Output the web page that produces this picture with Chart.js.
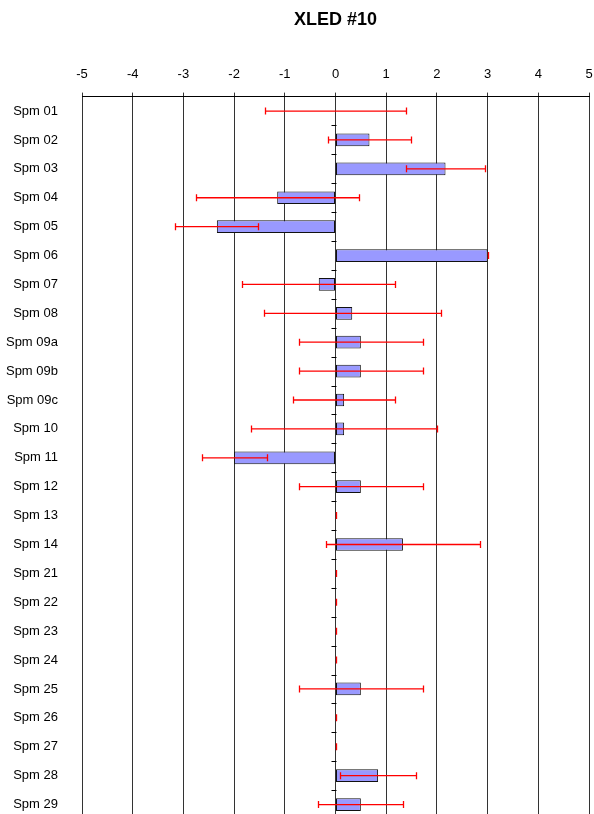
<!DOCTYPE html>
<html>
<head>
<meta charset="utf-8">
<script src="https://cdn.jsdelivr.net/npm/chart.js@4"></script>
<style>
	body { margin: 0; overflow: hidden; background: #fff; }
	canvas { display: block; }
</style>
</head>
<body>
<canvas id="xledChart" width="594" height="830"></canvas>
<script>
const categories = ["Spm 01", "Spm 02", "Spm 03", "Spm 04", "Spm 05", "Spm 06", "Spm 07", "Spm 08",
	"Spm 09a", "Spm 09b", "Spm 09c", "Spm 10", "Spm 11", "Spm 12", "Spm 13", "Spm 14",
	"Spm 21", "Spm 22", "Spm 23", "Spm 24", "Spm 25", "Spm 26", "Spm 27", "Spm 28", "Spm 29"];
const values = [0, 0.67, 2.17, -1.15, -2.34, 3.0, -0.33, 0.33,
	0.5, 0.5, 0.17, 0.17, -2.0, 0.5, 0, 1.33,
	0, 0, 0, 0, 0.5, 0, 0, 0.84, 0.5];
const errors = [1.4, 0.82, 0.77, 1.61, 0.82, 0, 1.51, 1.75,
	1.22, 1.22, 1.0, 1.84, 0.64, 1.22, 0, 1.52,
	0, 0, 0, 0, 1.22, 0, 0, 0.75, 0.84];
const xMin = -5;
const xMax = 5;
const xStep = 1;

const FONT = "Arial, 'Liberation Sans', sans-serif";

// red error bars with caps, drawn on top of the bars
const errorBars = {
	id: "errorBars",
	afterDatasetsDraw(chart) {
		const ctx = chart.ctx;
		const xs = chart.scales.x;
		const ys = chart.scales.y;
		ctx.save();
		ctx.strokeStyle = "#ff0000";
		ctx.lineWidth = 1.3;
		values.forEach((v, i) => {
			const y = ys.getPixelForValue(i);
			const x1 = Math.round(xs.getPixelForValue(v - errors[i])) + 0.5;
			const x2 = Math.round(xs.getPixelForValue(v + errors[i])) + 0.5;
			ctx.beginPath();
			ctx.moveTo(x1, y);
			ctx.lineTo(x2, y);
			ctx.moveTo(x1, y - 3.5);
			ctx.lineTo(x1, y + 3.5);
			ctx.moveTo(x2, y - 3.5);
			ctx.lineTo(x2, y + 3.5);
			ctx.stroke();
		});
		ctx.restore();
	},
	// little category ticks on the zero line
	afterDraw(chart) {
		const ctx = chart.ctx;
		const xs = chart.scales.x;
		const ys = chart.scales.y;
		const x0 = Math.round(xs.getPixelForValue(0)) + 0.5;
		const half = (ys.getPixelForValue(1) - ys.getPixelForValue(0)) / 2;
		ctx.save();
		ctx.strokeStyle = "#000";
		ctx.lineWidth = 1;
		ctx.beginPath();
		for (let i = 0; i < categories.length; i++) {
			const yb = Math.round(ys.getPixelForValue(i) + half) + 0.5;
			ctx.moveTo(x0 - 5, yb);
			ctx.lineTo(x0, yb);
		}
		ctx.stroke();
		ctx.restore();
	}
};

new Chart(document.getElementById("xledChart"), {
	type: "bar",
	data: {
		labels: categories,
		datasets: [{
			data: values,
			backgroundColor: "#9999ff",
			borderColor: "#111111",
			borderWidth: 1,
			borderSkipped: false,
			barPercentage: 0.44,
			categoryPercentage: 1,
		}],
	},
	options: {
		indexAxis: "y",
		responsive: false,
		animation: false,
		layout: { padding: { top: 0, right: 5, bottom: 11, left: 6 } },
		plugins: {
			legend: { display: false },
			tooltip: { enabled: false },
			title: {
				display: true,
				text: "XLED #10",
				fullSize: false,
				color: "#000",
				font: { family: FONT, size: 18, weight: "bold" },
				padding: { top: 9, bottom: 36 },
			},
		},
		scales: {
			x: {
				position: "top",
				min: xMin,
				max: xMax,
				ticks: {
					stepSize: xStep,
					color: "#000",
					padding: 10,
					font: { family: FONT, size: 13 },
				},
				grid: { color: "#333", lineWidth: 1, tickLength: 4, drawTicks: true },
				border: { color: "#000", width: 1 },
				afterFit(scale) {
					scale.height = 30;
					scale.paddingLeft = 0;
					scale.paddingRight = 0;
				},
			},
			y: {
				ticks: {
					color: "#000",
					padding: 24,
					font: { family: FONT, size: 13 },
				},
				grid: { display: false, drawTicks: false },
				border: { display: false },
				afterFit(scale) {
					scale.width = 76;
					scale.paddingTop = 0;
					scale.paddingBottom = 0;
				},
			},
		},
	},
	plugins: [errorBars],
});
</script>
</body>
</html>
